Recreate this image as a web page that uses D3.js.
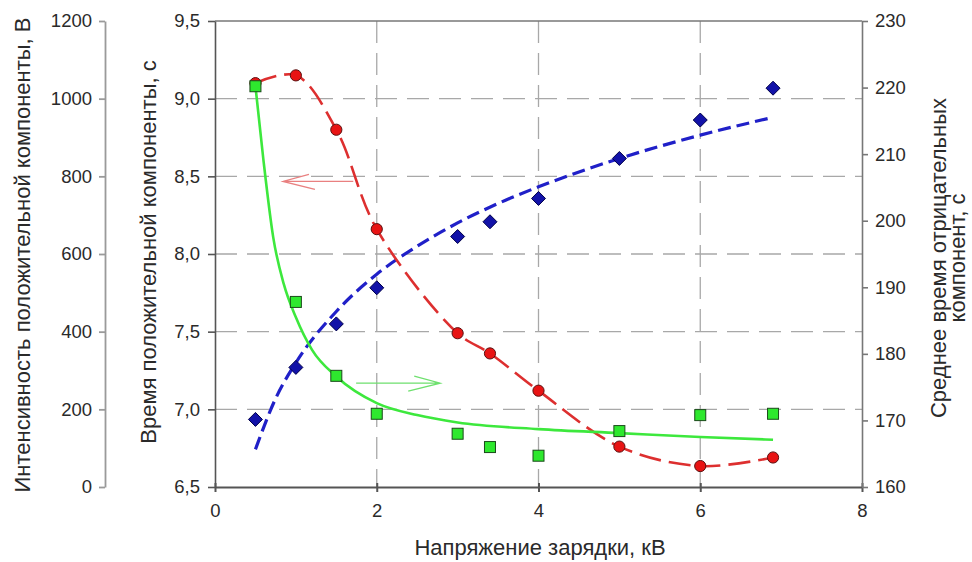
<!DOCTYPE html>
<html>
<head>
<meta charset="utf-8">
<script src="https://cdn.jsdelivr.net/npm/d3@7"></script>
<style>
  html, body { margin: 0; padding: 0; background: #fff; }
  svg { display: block; font-family: "Liberation Sans", Arial, sans-serif; }
</style>
</head>
<body>
<svg id="chart" width="972" height="562"></svg>
<script>
// Charging voltage, kV
const voltage = [0.5, 1, 1.5, 2, 3, 3.4, 4, 5, 6, 6.9];

// Positive component time, s (inner left axis)
const timePositive = [9.10, 9.15, 8.80, 8.16, 7.49, 7.36, 7.12, 6.76, 6.635, 6.69];

// Positive component intensity, V (outer left axis)
const intensity = [174, 308, 420, 513, 645, 683, 743, 846, 945, 1027];

// Mean time of negative components, s (right axis)
const timeNegative = [220.2, 187.8, 176.7, 171.0, 168.0, 166.0, 164.7, 168.4, 170.8, 171.0];

// Trend curve for the intensity (dashed blue)
const intensityTrendX = [0.5, 0.75, 1, 1.5, 2, 2.5, 3, 3.5, 4, 5, 6, 6.9];
const intensityTrendY = [97, 228, 320, 452, 548, 620, 680, 730, 773, 846, 906, 952];

// Trend curve for the negative component time (solid green)
const negTrendX = [0.5, 0.6, 0.72, 0.85, 1, 1.2, 1.5, 2, 2.5, 3, 4, 5, 6, 6.9];
const negTrendY = [220.2, 209, 197.5, 190.5, 185.5, 180.6, 176.6, 172.6, 170.8, 169.7, 168.7, 168.1, 167.5, 167.1];

// Tick values
const xTicks = [0, 2, 4, 6, 8];
const timeTicks = [6.5, 7.0, 7.5, 8.0, 8.5, 9.0, 9.5];
const intensityTicks = [0, 200, 400, 600, 800, 1000, 1200];
const negTicks = [160, 170, 180, 190, 200, 210, 220, 230];

const svg = d3.select("#chart");
const L = 215, R = 862, T = 21, B = 487;

const x = d3.scaleLinear().domain([0, 8]).range([L, R]);
const yTime = d3.scaleLinear().domain([6.5, 9.5]).range([B, T]);
const yInt = d3.scaleLinear().domain([0, 1200]).range([B, T]);
const yNeg = d3.scaleLinear().domain([160, 230]).range([B, T]);

const comma = v => d3.format(".1f")(v).replace(".", ",");
const tickFont = 18.5, titleFont = 22, textColor = "#2a2a2a";

// Grid
const grid = svg.append("g");
grid.selectAll("line.h").data(timeTicks.slice(1, -1)).join("line")
  .attr("x1", L).attr("x2", R)
  .attr("y1", d => yTime(d)).attr("y2", d => yTime(d))
  .attr("stroke", "#a8a8a8").attr("stroke-width", 1.3).attr("stroke-dasharray", "22,10");
grid.selectAll("line.v").data(xTicks.slice(1, -1)).join("line")
  .attr("x1", d => x(d)).attr("x2", d => x(d))
  .attr("y1", T).attr("y2", B)
  .attr("stroke", "#a8a8a8").attr("stroke-width", 1.3).attr("stroke-dasharray", "22,10");

// Frame top
svg.append("line").attr("x1", L).attr("x2", R).attr("y1", T).attr("y2", T)
  .attr("stroke", "#777").attr("stroke-width", 1.5);

function styleAxis(g, color, width) {
  g.select(".domain").attr("stroke", color).attr("stroke-width", width);
  g.selectAll(".tick line").attr("stroke", color).attr("stroke-width", width);
  g.selectAll(".tick text").attr("fill", textColor).attr("font-size", tickFont)
    .attr("font-family", "Liberation Sans, Arial, sans-serif");
}

// Bottom axis
const gx = svg.append("g").attr("transform", `translate(0,${B})`)
  .call(d3.axisBottom(x).tickValues(xTicks).tickSize(5).tickSizeOuter(0).tickPadding(12).tickFormat(d3.format("d")));
styleAxis(gx, "#555", 2);
gx.selectAll(".tick line").attr("y1", -4);

// Inner left axis: time of positive component
const gt = svg.append("g").attr("transform", `translate(${L},0)`)
  .call(d3.axisLeft(yTime).tickValues(timeTicks).tickSize(7).tickSizeOuter(0).tickPadding(8).tickFormat(comma));
styleAxis(gt, "#555", 1.6);

// Outer left axis: intensity
const gi = svg.append("g").attr("transform", "translate(105,0)")
  .call(d3.axisLeft(yInt).tickValues(intensityTicks).tickSize(6).tickSizeOuter(0).tickPadding(7).tickFormat(d3.format("d")));
styleAxis(gi, "#9a9a9a", 1.8);

// Right axis: mean time of negative components
const gn = svg.append("g").attr("transform", `translate(${R},0)`)
  .call(d3.axisRight(yNeg).tickValues(negTicks).tickSize(6).tickSizeOuter(0).tickPadding(7).tickFormat(d3.format("d")));
styleAxis(gn, "#777", 1.6);

// Trend lines
const lineInt = d3.line().x(d => x(d[0])).y(d => yInt(d[1])).curve(d3.curveMonotoneX);
svg.append("path").datum(d3.zip(intensityTrendX, intensityTrendY))
  .attr("d", lineInt).attr("fill", "none")
  .attr("stroke", "#2020c8").attr("stroke-width", 3.2).attr("stroke-dasharray", "13,6");

const lineTime = d3.line().x(d => x(d[0])).y(d => yTime(d[1])).curve(d3.curveCatmullRom.alpha(0.5));
svg.append("path").datum(d3.zip(voltage, timePositive))
  .attr("d", lineTime).attr("fill", "none")
  .attr("stroke", "#dd2f2f").attr("stroke-width", 2.6).attr("stroke-dasharray", "22,8");

const lineNeg = d3.line().x(d => x(d[0])).y(d => yNeg(d[1])).curve(d3.curveMonotoneX);
svg.append("path").datum(d3.zip(negTrendX, negTrendY))
  .attr("d", lineNeg).attr("fill", "none")
  .attr("stroke", "#3de83d").attr("stroke-width", 2.6);

// Direction arrows pointing at the relevant axis
function arrow(x0, x1, yv, color) {
  const a = x1 < x0 ? 1 : -1; // head direction
  const tx = x1, ty = yv;
  svg.append("path")
    .attr("d", `M${x0},${ty}L${tx},${ty}M${tx + a * 26},${ty - 7}L${tx},${ty}L${tx + a * 32},${ty + 8}`)
    .attr("fill", "none").attr("stroke", color).attr("stroke-width", 1.3);
}
arrow(x(1.71), x(0.84), yTime(8.467), "#e98080");
arrow(x(1.745), x(2.785), yNeg(175.6), "#6ee06e");

// Markers
const pts = d3.range(voltage.length);
svg.append("g").selectAll("circle").data(pts).join("circle")
  .attr("cx", i => x(voltage[i])).attr("cy", i => yTime(timePositive[i])).attr("r", 5.6)
  .attr("fill", "#e81414").attr("stroke", "#5a1010").attr("stroke-width", 1);

svg.append("g").selectAll("path").data(pts).join("path")
  .attr("transform", i => `translate(${x(voltage[i])},${yInt(intensity[i])})`)
  .attr("d", "M0,-7L7,0L0,7L-7,0Z")
  .attr("fill", "#1212a8").attr("stroke", "#00004a").attr("stroke-width", 1);

svg.append("g").selectAll("rect").data(pts).join("rect")
  .attr("x", i => x(voltage[i]) - 5.5).attr("y", i => yNeg(timeNegative[i]) - 5.5)
  .attr("width", 11).attr("height", 11)
  .attr("fill", "#2ee82e").attr("stroke", "#1a4a1a").attr("stroke-width", 1);

// Axis titles
svg.append("text").attr("transform", "translate(30,255) rotate(-90)")
  .attr("text-anchor", "middle").attr("font-size", titleFont).attr("fill", textColor)
  .text("Интенсивность положительной компоненты, В");
svg.append("text").attr("transform", "translate(156,252) rotate(-90)")
  .attr("text-anchor", "middle").attr("font-size", titleFont).attr("fill", textColor)
  .text("Время положительной компоненты, с");
svg.append("text").attr("transform", "translate(946,258) rotate(-90)")
  .attr("text-anchor", "middle").attr("font-size", titleFont).attr("fill", textColor)
  .text("Среднее время отрицательных");
svg.append("text").attr("transform", "translate(965,258) rotate(-90)")
  .attr("text-anchor", "middle").attr("font-size", titleFont).attr("fill", textColor)
  .text("компонент, с");
svg.append("text").attr("x", 540).attr("y", 555)
  .attr("text-anchor", "middle").attr("font-size", titleFont).attr("fill", textColor)
  .text("Напряжение зарядки, кВ");
</script>
</body>
</html>
